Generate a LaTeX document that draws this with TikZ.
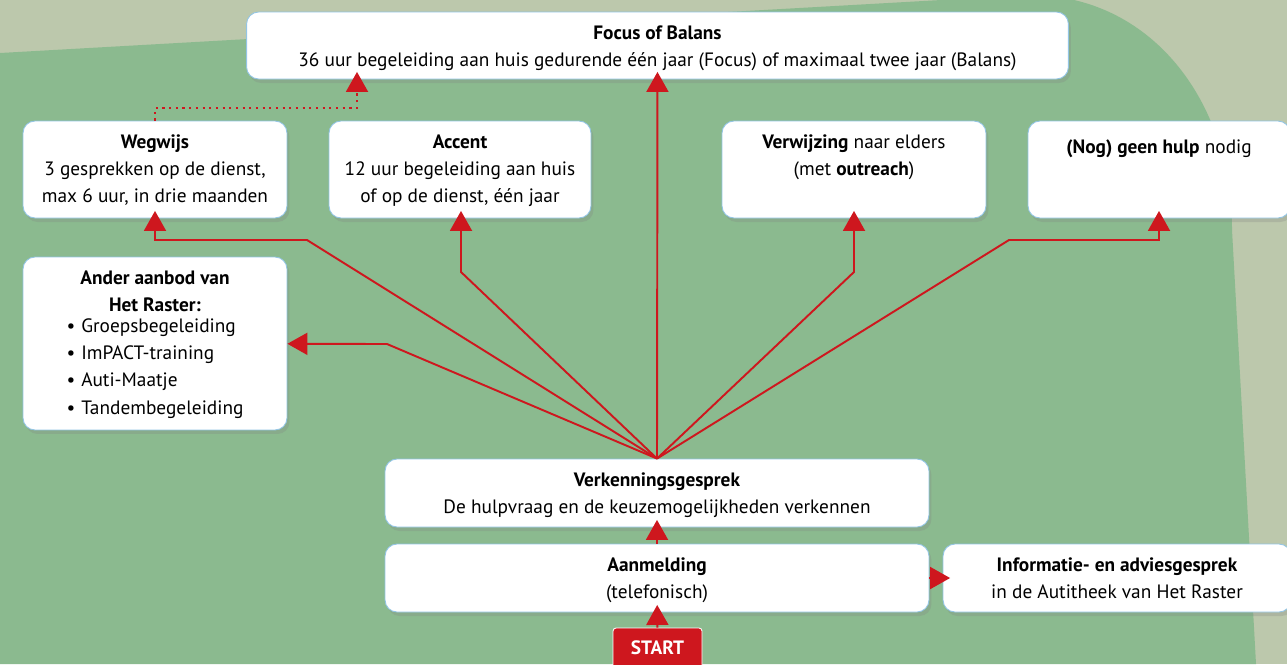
\documentclass[tikz,border=0pt]{standalone}
\usepackage{fontspec}
\setmainfont{PT Sans}
\usetikzlibrary{arrows.meta,shadows}
\definecolor{grijsgroen}{HTML}{BCC8AC}
\definecolor{groen}{HTML}{8BBA8F}
\definecolor{rood}{HTML}{CE171E}
\definecolor{blauw}{HTML}{93C5E5}
\begin{document}
\begin{tikzpicture}[x=0.02cm,y=-0.02cm,
	kader/.style={draw=blauw,line width=0.5pt,fill=white,rounded corners=0.24cm,inner sep=0pt,
		drop shadow={opacity=0.25,shadow xshift=0.05cm,shadow yshift=-0.08cm}},
	tekst/.style={anchor=north,align=center,inner sep=0pt,yshift=-0.27cm,
		font=\fontsize{11}{15.5}\selectfont,execute at begin node=\strut},
	pijl/.style={draw=rood,line width=1.1pt,-{Triangle[length=0.4cm,width=0.44cm]},shorten >=-0.15cm}]
	\useasboundingbox (0,0) rectangle (1287,664);
	\fill[grijsgroen] (0,0) rectangle (1287,664);
	\fill[groen] (0,664) -- (0,53) -- (1030,-5) .. controls (1150,-5) and (1232,100) .. (1232,230) -- (1256,664) -- cycle;
	\node (b1) [kader,minimum width=16.44cm,minimum height=1.34cm] at (657.5,45.5) {};
	\node (b2) [kader,minimum width=5.28cm,minimum height=1.94cm] at (155,169.5) {};
	\node (b3) [kader,minimum width=5.24cm,minimum height=1.94cm] at (460,169.5) {};
	\node (b4) [kader,minimum width=5.28cm,minimum height=1.94cm] at (854,169.5) {};
	\node (b5) [kader,minimum width=5.24cm,minimum height=1.94cm] at (1159,169.5) {};
	\node (b6) [kader,minimum width=5.28cm,minimum height=3.46cm] at (155,343.5) {};
	\node (b7) [kader,minimum width=10.88cm,minimum height=1.36cm] at (657,493) {};
	\node (b8) [kader,minimum width=10.88cm,minimum height=1.36cm] at (657,578) {};
	\node (b9) [kader,minimum width=6.96cm,minimum height=1.36cm] at (1117,578) {};
	\node (b10) [fill=rood,draw=white,line width=0.5pt,rounded corners=0.06cm,minimum width=1.78cm,minimum height=0.8cm,
		text=white,font=\fontsize{11}{15}\selectfont\bfseries] at (657.5,648) {START};
	\node (t1) [tekst] at (b1.north) {\textbf{Focus of Balans}\\36 uur begeleiding aan huis gedurende één jaar (Focus) of maximaal twee jaar (Balans)};
	\node (t2) [tekst] at (b2.north) {\textbf{Wegwijs}\\3 gesprekken op de dienst,\\max 6 uur, in drie maanden};
	\node (t3) [tekst] at (b3.north) {\textbf{Accent}\\12 uur begeleiding aan huis\\of op de dienst, één jaar};
	\node (t4) [tekst] at (b4.north) {\textbf{Verwijzing} naar elders\\(met \textbf{outreach})};
	\node (t5) [tekst] at (b5.north) {\textbf{(Nog) geen hulp} nodig};
	\node (t6) [tekst] at (b6.north) {\textbf{Ander aanbod van}\\\textbf{Het Raster:}\\
		\begin{tabular}{@{}l@{}}
		\textbullet\hspace{0.12cm}Groepsbegeleiding\\
		\textbullet\hspace{0.12cm}ImPACT-training\\
		\textbullet\hspace{0.12cm}Auti-Maatje\\
		\textbullet\hspace{0.12cm}Tandembegeleiding
		\end{tabular}\hspace{0.16cm}};
	\node (t7) [tekst] at (b7.north) {\textbf{Verkenningsgesprek}\\De hulpvraag en de keuzemogelijkheden verkennen};
	\node (t8) [tekst] at (b8.north) {\textbf{Aanmelding}\\(telefonisch)};
	\node (t9) [tekst] at (b9.north) {\textbf{Informatie- en adviesgesprek}\\in de Autitheek van Het Raster};
	\coordinate (k1) at (307,240);
	\coordinate (k2) at (461,272);
	\coordinate (k3) at (854,272);
	\coordinate (k4) at (1009,240);
	\coordinate (k5) at (387,344);
	\coordinate (k6) at (357,108);
	\draw[pijl] (b7.north) -- (b1);
	\draw[pijl] (b7.north) -- (k1) -| (b2);
	\draw[pijl] (b7.north) -- (k2) -- (k2 |- b3.south);
	\draw[pijl] (b7.north) -- (k3) -- (b4);
	\draw[pijl] (b7.north) -- (k4) -| (b5);
	\draw[pijl,shorten >=0cm] (b7.north) -- (k5) -- (b6);
	\draw[pijl,dash pattern=on 1.2pt off 2.6pt] (b2.north) |- (k6) -- (k6 |- b1.south);
	\draw[pijl] (b8) -- (b7);
	\draw[pijl] (b10) -- (b8);
	\draw[pijl] (b8) -- (b9);
\end{tikzpicture}
\end{document}
